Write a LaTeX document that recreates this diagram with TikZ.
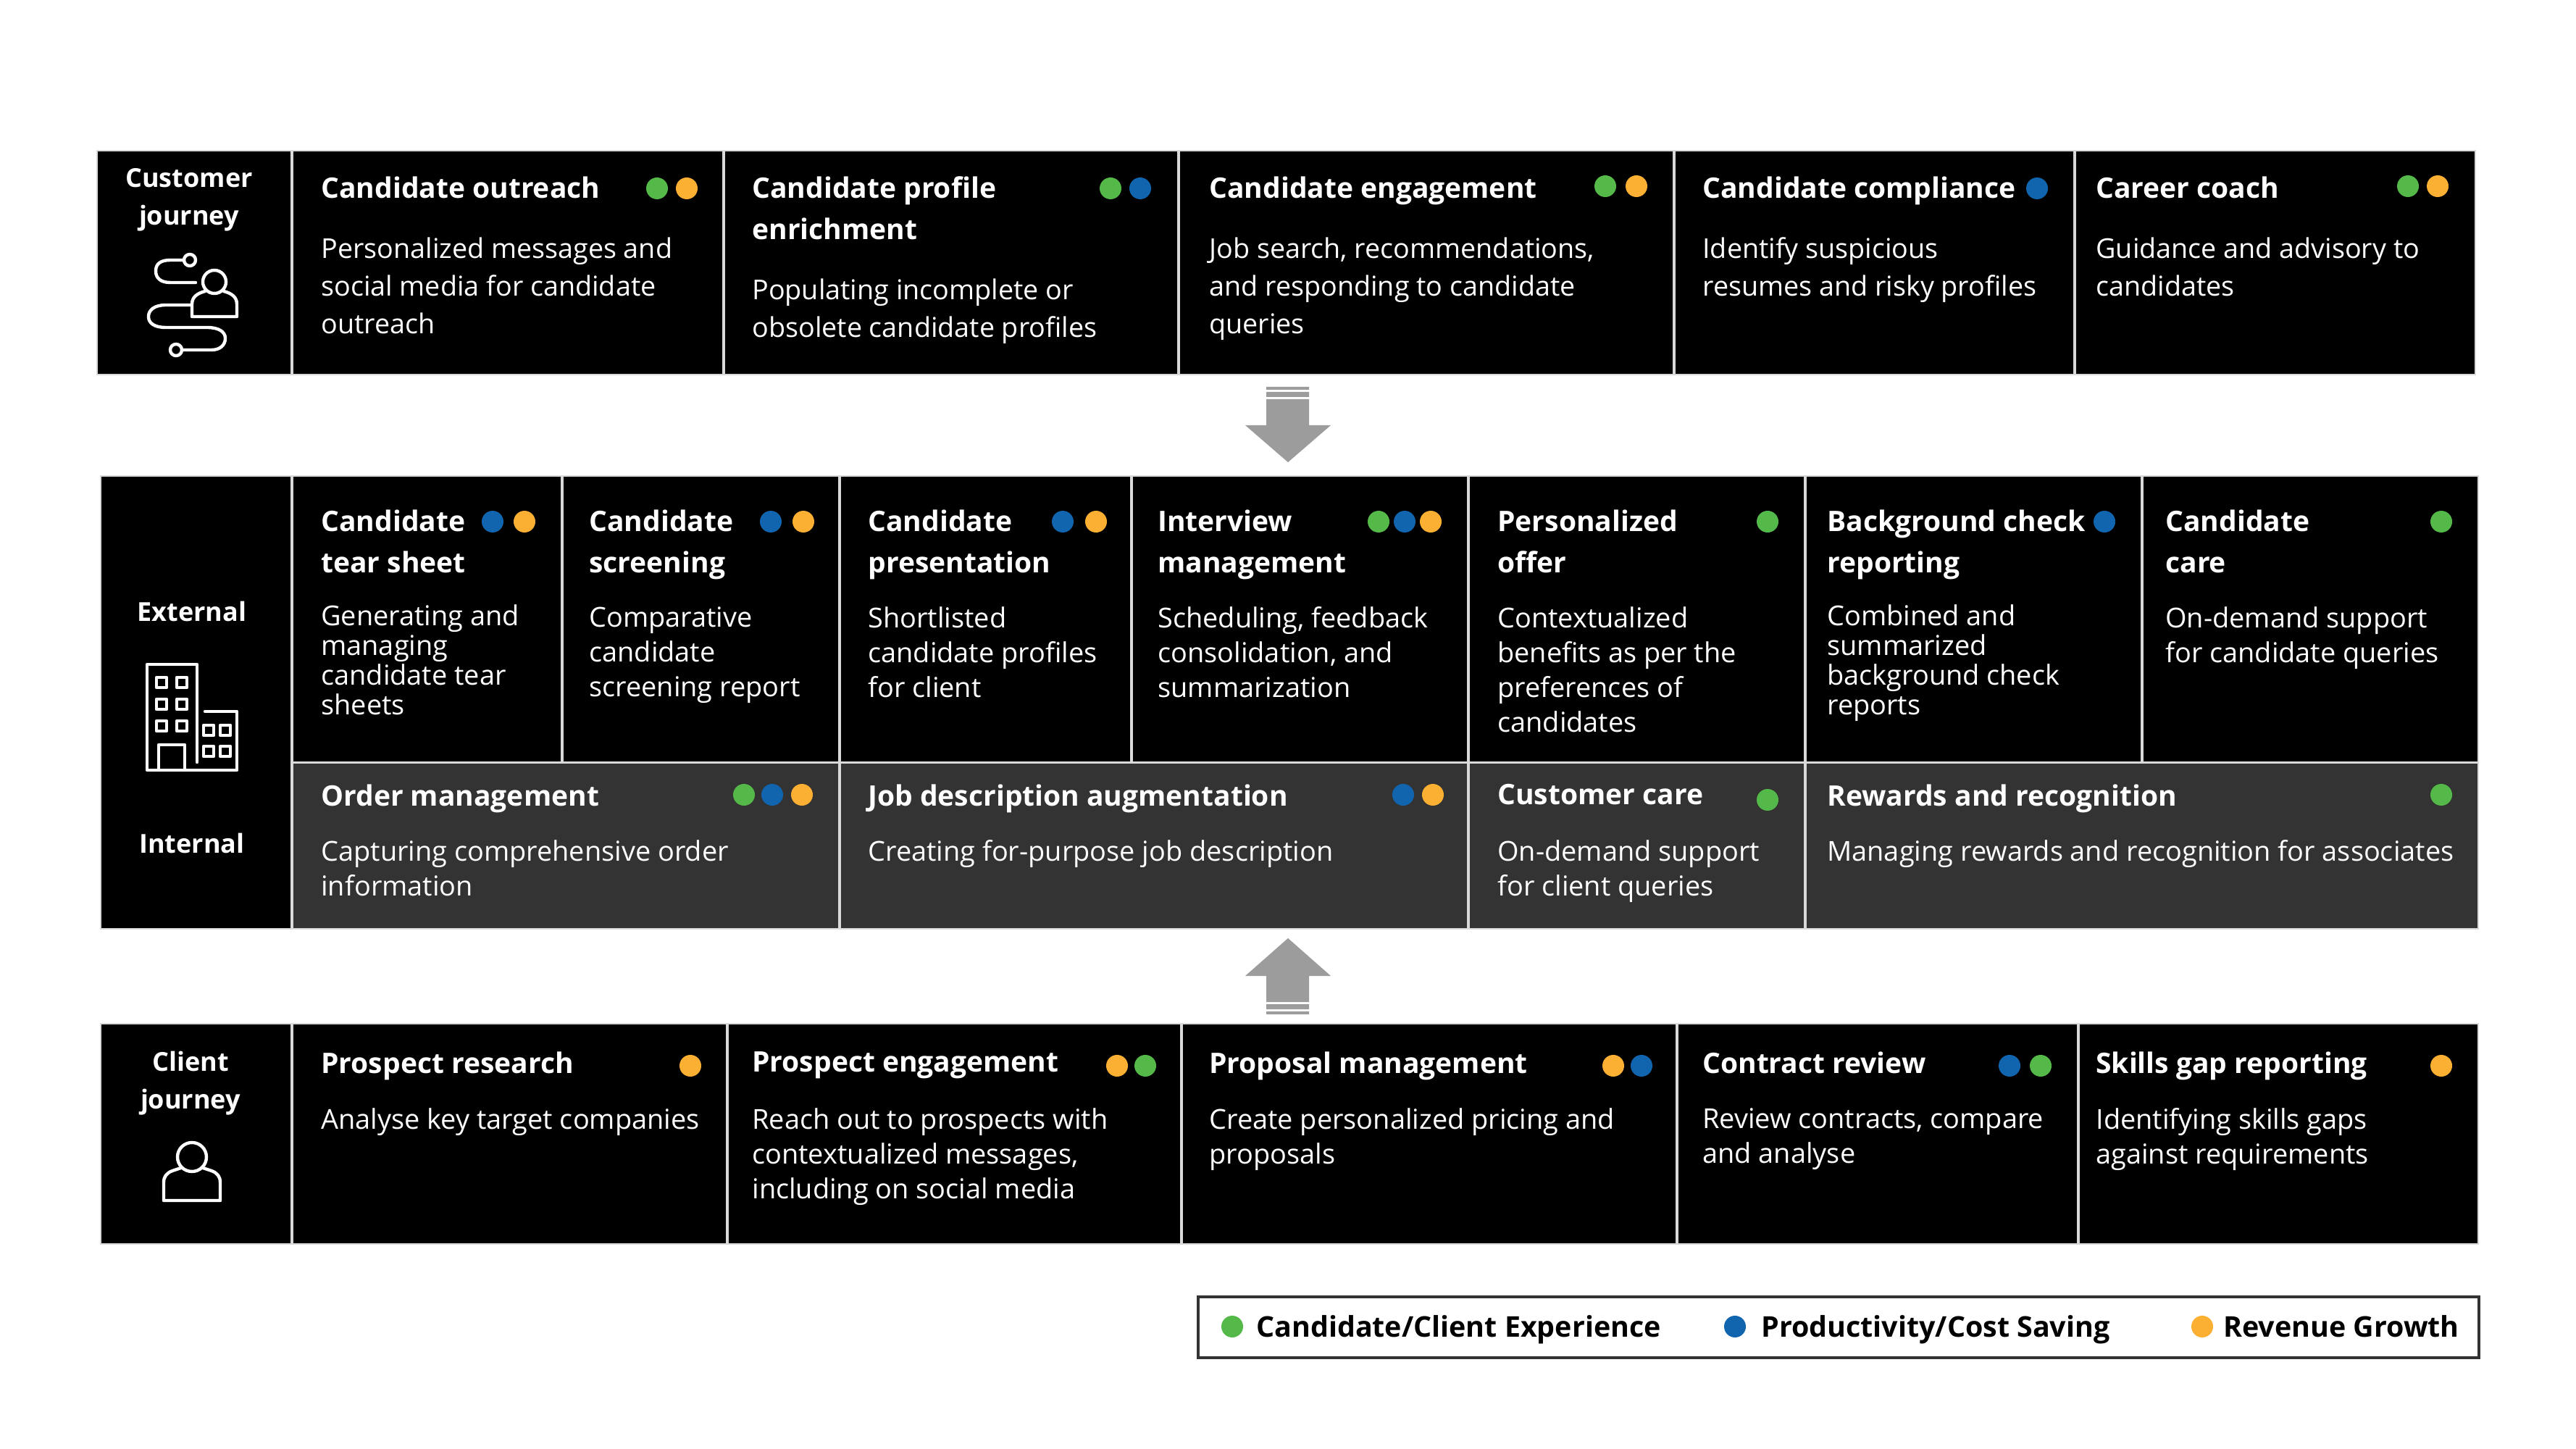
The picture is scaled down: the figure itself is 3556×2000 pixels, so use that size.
\documentclass[tikz,border=0pt]{standalone}
\usepackage{fontspec}
\setmainfont{Open Sans}
\definecolor{dotgreen}{HTML}{54B948}
\definecolor{dotblue}{HTML}{1164AE}
\definecolor{dotorange}{HTML}{FBB034}
\definecolor{darkcell}{HTML}{333333}
\definecolor{arrowgray}{HTML}{9C9C9C}
\tikzset{
	cell/.style={fill=black, draw=black!15, line width=1pt},
	intcell/.style={fill=darkcell, draw=black!15, line width=1pt},
	title/.style={anchor=north west, inner sep=0pt, align=left, text=white, font=\fontsize{19.5}{28.5}\selectfont\bfseries, execute at begin node=\rule{0pt}{14pt}},
	bodytext/.style={anchor=north west, inner sep=0pt, align=left, text=white, font=\fontsize{18.95}{24}\selectfont, execute at begin node=\rule{0pt}{14pt}},
	bodywide/.style={bodytext, font=\fontsize{18.85}{26}\selectfont},
	bodytight/.style={bodytext, yshift=1.5pt, font=\fontsize{18.95}{20.5}\selectfont},
	side/.style={align=center, inner sep=0pt, text=white, font=\fontsize{18}{26}\selectfont\bfseries},
	dot/.style={circle, inner sep=0pt, minimum size=15pt},
	icon/.style={draw=white, line width=2.2pt, line join=round, line cap=round},
	legendtext/.style={anchor=base west, inner sep=0pt, font=\fontsize{19.7}{24}\selectfont\bfseries},
}
% top, bottom, title y, text y, cell style
\newcommand{\setrow}[5]{\def\rowtop{#1}\def\rowbot{#2}\def\titley{#3}\def\texty{#4}\def\rowstyle{#5}}
\newcommand{\jobcell}[7][bodytext]{
	\draw[\rowstyle] (#3+1,\rowtop) rectangle (#4-1,\rowbot);
	\node[title] (#2 title) at (#5,\titley) {#6};
	\node[#1] (#2 text) at (#5,\texty) {#7};
}
\begin{document}
\begin{tikzpicture}[x=.5pt, y=-.5pt]
	\useasboundingbox (0,0) rectangle (3556,2000);
	%side cells
	\draw[cell] (134,208) rectangle (402,517);
	\draw[cell] (139,657) rectangle (402,1282);
	\draw[cell] (139,1413) rectangle (402,1717);
	%customer journey
	\setrow{208}{517}{243}{327}{cell}
	\jobcell[bodywide]{outreach}{403}{999}{443}{Candidate outreach}{Personalized messages and\\social media for candidate\\outreach}
	\jobcell[bodywide]{engage}{1627}{2311}{1669}{Candidate engagement}{Job search, recommendations,\\and responding to candidate\\queries}
	\jobcell[bodywide]{comply}{2311}{2864}{2350}{Candidate compliance}{Identify suspicious\\resumes and risky profiles}
	\jobcell[bodywide]{coach}{2864}{3418}{2893}{Career coach}{Guidance and advisory to\\candidates}
	\setrow{208}{517}{243}{384}{cell}
	\jobcell[bodywide]{profile}{999}{1627}{1038}{Candidate profile\\enrichment}{Populating incomplete or\\obsolete candidate profiles}
	%external row
	\setrow{657}{1052}{703}{837}{cell}
	\jobcell[bodytight]{sheet}{403}{776}{443}{Candidate\\tear sheet}{Generating and\\managing\\candidate tear\\sheets}
	\jobcell{screen}{776}{1159}{813}{Candidate\\screening}{Comparative\\candidate\\screening report}
	\jobcell{present}{1159}{1562}{1198}{Candidate\\presentation}{Shortlisted\\candidate profiles\\for client}
	\jobcell{interview}{1562}{2027}{1598}{Interview\\management}{Scheduling, feedback\\consolidation, and\\summarization}
	\jobcell{offer}{2027}{2492}{2067}{Personalized\\offer}{Contextualized\\benefits as per the\\preferences of\\candidates}
	\jobcell[bodytight]{check}{2492}{2957}{2522}{Background check\\reporting}{Combined and\\summarized\\background check\\reports}
	\jobcell{care}{2957}{3422}{2989}{Candidate\\care}{On-demand support\\for candidate queries}
	%internal row
	\setrow{1053}{1282}{1082}{1159}{intcell}
	\jobcell{order}{403}{1159}{443}{Order management}{Capturing comprehensive order\\information}
	\jobcell{jobdesc}{1159}{2027}{1198}{Job description augmentation}{Creating for-purpose job description}
	\jobcell{clientcare}{2027}{2492}{2067}{Customer care}{On-demand support\\for client queries}
	\jobcell{rewards}{2492}{3422}{2522}{Rewards and recognition}{Managing rewards and recognition for associates}
	%client journey
	\setrow{1413}{1717}{1451}{1529}{cell}
	\jobcell{research}{403}{1004}{443}{Prospect research}{Analyse key target companies}
	\jobcell{prospect}{1004}{1631}{1038}{Prospect engagement}{Reach out to prospects with\\contextualized messages,\\including on social media}
	\jobcell{proposal}{1631}{2315}{1669}{Proposal management}{Create personalized pricing and\\proposals}
	\jobcell{contract}{2315}{2869}{2350}{Contract review}{Review contracts, compare\\and analyse}
	\jobcell{skills}{2869}{3422}{2893}{Skills gap reporting}{Identifying skills gaps\\against requirements}
	%side labels
	\node[side] (customer) at (261,276) {Customer\\journey};
	\node[side] (external) at (265,844) {External};
	\node[side] (internal) at (265,1164) {Internal};
	\node[side] (client) at (263,1495) {Client\\journey};
	%dots
	\foreach \dx/\dy/\col [count=\i] in {
		907/260/dotgreen, 948/260/dotorange, 1533/260/dotgreen, 1574/260/dotblue,
		2216/257/dotgreen, 2259/257/dotorange, 2812/260/dotblue, 3324/257/dotgreen, 3365/257/dotorange,
		680/720/dotblue, 724/720/dotorange, 1064/720/dotblue, 1109/720/dotorange,
		1467/720/dotblue, 1513/720/dotorange, 1903/720/dotgreen, 1939/720/dotblue, 1975/720/dotorange,
		2440/720/dotgreen, 2905/720/dotblue, 3370/720/dotgreen,
		1027/1097/dotgreen, 1066/1097/dotblue, 1107/1097/dotorange, 1937/1097/dotblue, 1978/1097/dotorange,
		2440/1104/dotgreen, 3370/1097/dotgreen,
		953/1471/dotorange, 1542/1471/dotorange, 1581/1471/dotgreen, 2227/1471/dotorange, 2266/1471/dotblue,
		2774/1471/dotblue, 2817/1471/dotgreen, 3370/1471/dotorange}
	\node[dot, fill=\col] (dot\i) at (\dx,\dy) {};
	%arrows
	\fill[arrowgray] (1748,534) rectangle (1807,538) (1748,541) rectangle (1807,548);
	\fill[arrowgray] (1748,551) -- (1807,551) -- (1807,587) -- (1837,587) -- (1778,638) -- (1719,587) -- (1748,587) -- cycle;
	\fill[arrowgray] (1748,1396) rectangle (1807,1400) (1748,1386) rectangle (1807,1393);
	\fill[arrowgray] (1748,1383) -- (1807,1383) -- (1807,1347) -- (1837,1347) -- (1778,1295) -- (1719,1347) -- (1748,1347) -- cycle;
	%journey icon
	\draw[icon] (262,359) circle (8);
	\draw[icon] (254,359) -- (235,359) .. controls (222,359) and (215,364) .. (215,374) .. controls (215,384) and (222,390) .. (235,390) -- (270,390);
	\draw[icon] (296,389) circle (16);
	\draw[icon] (283,402) .. controls (272,405) and (265,410) .. (265,420) -- (265,437) -- (327,437) -- (327,420) .. controls (327,410) and (320,405) .. (309,402);
	\draw[icon] (264,421) -- (229,421) .. controls (213,421) and (205,428) .. (205,437) .. controls (205,446) and (213,452) .. (229,452) -- (286,452) .. controls (302,452) and (311,458) .. (311,467) .. controls (311,476) and (304,483) .. (292,483) -- (252,483);
	\draw[icon] (243,483) circle (8);
	%building icon
	\draw[icon] (272,1052) -- (272,917) -- (203,917) -- (203,1063) -- (327,1063) -- (327,982) -- (283,982);
	\draw[icon] (219,1063) -- (219,1028) -- (255,1028) -- (255,1063);
	\foreach \wx/\wy in {223/942, 251/942, 223/972, 251/972, 223/1002, 251/1002, 288/1008, 311/1008, 288/1037, 311/1037}
	\draw[icon] (\wx-7,\wy-7) rectangle (\wx+7,\wy+7);
	%person icon
	\draw[icon] (265,1597) circle (20);
	\draw[icon] (250,1612) -- (238,1616) .. controls (230,1619) and (226,1624) .. (226,1632) -- (226,1657) -- (304,1657) -- (304,1632) .. controls (304,1624) and (300,1619) .. (292,1616) -- (280,1612);
	%legend
	\draw[draw=darkcell, line width=1.8pt] (1654,1790) rectangle (3422,1874);
	\node[dot, fill=dotgreen] (leg green) at (1701,1831) {};
	\node[dot, fill=dotblue] (leg blue) at (2395,1831) {};
	\node[dot, fill=dotorange] (leg orange) at (3040,1831) {};
	\node[legendtext] (leg green text) at (1734,1845) {Candidate/Client Experience};
	\node[legendtext] (leg blue text) at (2431,1845) {Productivity/Cost Saving};
	\node[legendtext] (leg orange text) at (3069,1845) {Revenue Growth};
\end{tikzpicture}
\end{document}
